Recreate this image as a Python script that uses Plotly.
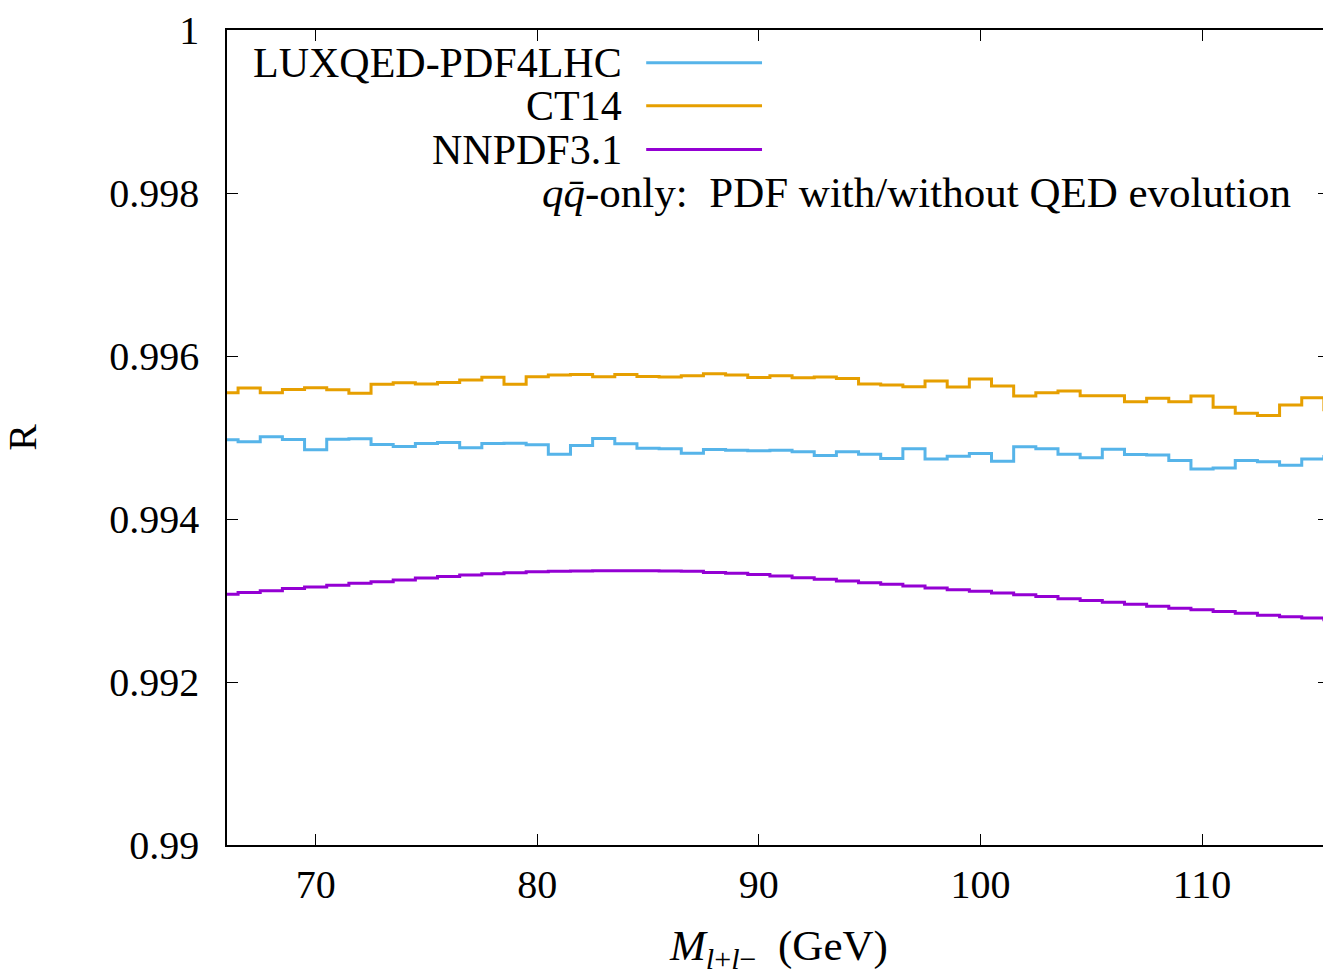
import plotly.graph_objects as go

# Invariant mass bin centres (GeV)
mass = list(range(66, 117))

# Ratio R (PDF with / without QED evolution), q-qbar only
lux = [0.994972, 0.994947, 0.995009, 0.994976, 0.994850, 0.994979, 0.994984, 0.994914,
       0.994890, 0.994927, 0.994939, 0.994874, 0.994927, 0.994930, 0.994911, 0.994796,
       0.994902, 0.994988, 0.994923, 0.994869, 0.994862, 0.994808, 0.994853, 0.994845,
       0.994837, 0.994845, 0.994825, 0.994780, 0.994825, 0.994796, 0.994743, 0.994862,
       0.994735, 0.994771, 0.994804, 0.994710, 0.994886, 0.994862, 0.994796, 0.994752,
       0.994857, 0.994792, 0.994784, 0.994719, 0.994612, 0.994625, 0.994719, 0.994703,
       0.994658, 0.994735, 0.994768]

ct14 = [0.995550, 0.995608, 0.995550, 0.995590, 0.995611, 0.995587, 0.995542, 0.995652,
        0.995672, 0.995656, 0.995676, 0.995705, 0.995740, 0.995652, 0.995746, 0.995767,
        0.995774, 0.995746, 0.995774, 0.995750, 0.995742, 0.995758, 0.995782, 0.995767,
        0.995737, 0.995758, 0.995733, 0.995742, 0.995725, 0.995656, 0.995644, 0.995623,
        0.995693, 0.995620, 0.995718, 0.995632, 0.995510, 0.995550, 0.995571, 0.995513,
        0.995513, 0.995440, 0.995481, 0.995440, 0.995510, 0.995370, 0.995297, 0.995269,
        0.995400, 0.995489, 0.995339]

nnpdf = [0.993077, 0.993097, 0.993121, 0.993146, 0.993166, 0.993187, 0.993211, 0.993231,
         0.993252, 0.993276, 0.993293, 0.993313, 0.993329, 0.993341, 0.993353, 0.993358,
         0.993362, 0.993366, 0.993366, 0.993366, 0.993362, 0.993358, 0.993345, 0.993333,
         0.993318, 0.993301, 0.993280, 0.993260, 0.993240, 0.993219, 0.993199, 0.993178,
         0.993154, 0.993133, 0.993114, 0.993093, 0.993072, 0.993048, 0.993023, 0.992999,
         0.992979, 0.992955, 0.992930, 0.992906, 0.992885, 0.992864, 0.992845, 0.992820,
         0.992800, 0.992784, 0.992763]

series_names = ["LUXQED-PDF4LHC", "CT14", "NNPDF3.1"]
series_colors = ["#56B4E9", "#E69F00", "#9400D3"]
series_values = [lux, ct14, nnpdf]

x_ticks = [70, 80, 90, 100, 110]
y_ticks = [0.99, 0.992, 0.994, 0.996, 0.998, 1.0]
y_tick_text = ["0.99", "0.992", "0.994", "0.996", "0.998", "1"]

FONT = "Liberation Serif"
FS_TICK = 40
FS_TEXT = 42

fig = go.Figure()
for name, color, vals in zip(series_names, series_colors, series_values):
    fig.add_trace(go.Scatter(x=mass, y=vals, mode="lines", name=name,
                             line=dict(color=color, width=3, shape="hvh"),
                             showlegend=False))

# Manual gnuplot-style key: text right-aligned, sample line to the right
key_y = [0.9597, 0.9071, 0.8533]
for name, color, ky in zip(series_names, series_colors, key_y):
    fig.add_annotation(xref="paper", yref="paper", x=0.3605, y=ky, text=name,
                       showarrow=False, xanchor="right", yanchor="middle",
                       font=dict(family=FONT, size=FS_TEXT, color="black"))
    fig.add_shape(type="line", xref="paper", yref="paper", x0=0.3804, x1=0.4855,
                  y0=ky, y1=ky, line=dict(color=color, width=3))

fig.add_annotation(xref="paper", yref="paper", x=0.9675, y=0.800,
                   text="<i>q</i><i>q\u0304</i>-only:  PDF with/without QED evolution",
                   showarrow=False, xanchor="right", yanchor="middle",
                   font=dict(family=FONT, size=43, color="black"))

# Axis titles
fig.add_annotation(xref="paper", yref="paper", x=0.5, y=-0.128,
                   text="<i>M</i><sub><i>l</i>+<i>l</i>\u2212</sub>  (GeV)",
                   showarrow=False, xanchor="center", yanchor="middle",
                   font=dict(family=FONT, size=43, color="black"))
fig.add_annotation(xref="paper", yref="paper", x=-0.1857, y=0.5, text="R",
                   textangle=-90, showarrow=False, xanchor="center", yanchor="middle",
                   font=dict(family=FONT, size=FS_TICK, color="black"))

fig.update_layout(
    width=1323, height=966,
    margin=dict(l=219, r=0, t=19, b=129),
    paper_bgcolor="white", plot_bgcolor="white",
    font=dict(family=FONT, size=FS_TICK, color="black"),
    xaxis=dict(range=[66, 115.73], tickvals=x_ticks, ticks="inside", ticklen=11,
               tickwidth=1.2, tickcolor="black", showline=True, linecolor="black",
               linewidth=1.5, mirror="ticks", showgrid=False, zeroline=False,
               ticklabelstandoff=3, tickfont=dict(family=FONT, size=FS_TICK)),
    yaxis=dict(range=[0.99, 1.0], tickvals=y_ticks, ticktext=y_tick_text,
               ticks="inside", ticklen=11, tickwidth=1.2, tickcolor="black",
               showline=True, linecolor="black", linewidth=1.5, mirror="ticks",
               showgrid=False, zeroline=False, ticklabelstandoff=18,
               ticklabeloverflow="allow",
               tickfont=dict(family=FONT, size=FS_TICK)),
)

fig.write_html("out.html")
